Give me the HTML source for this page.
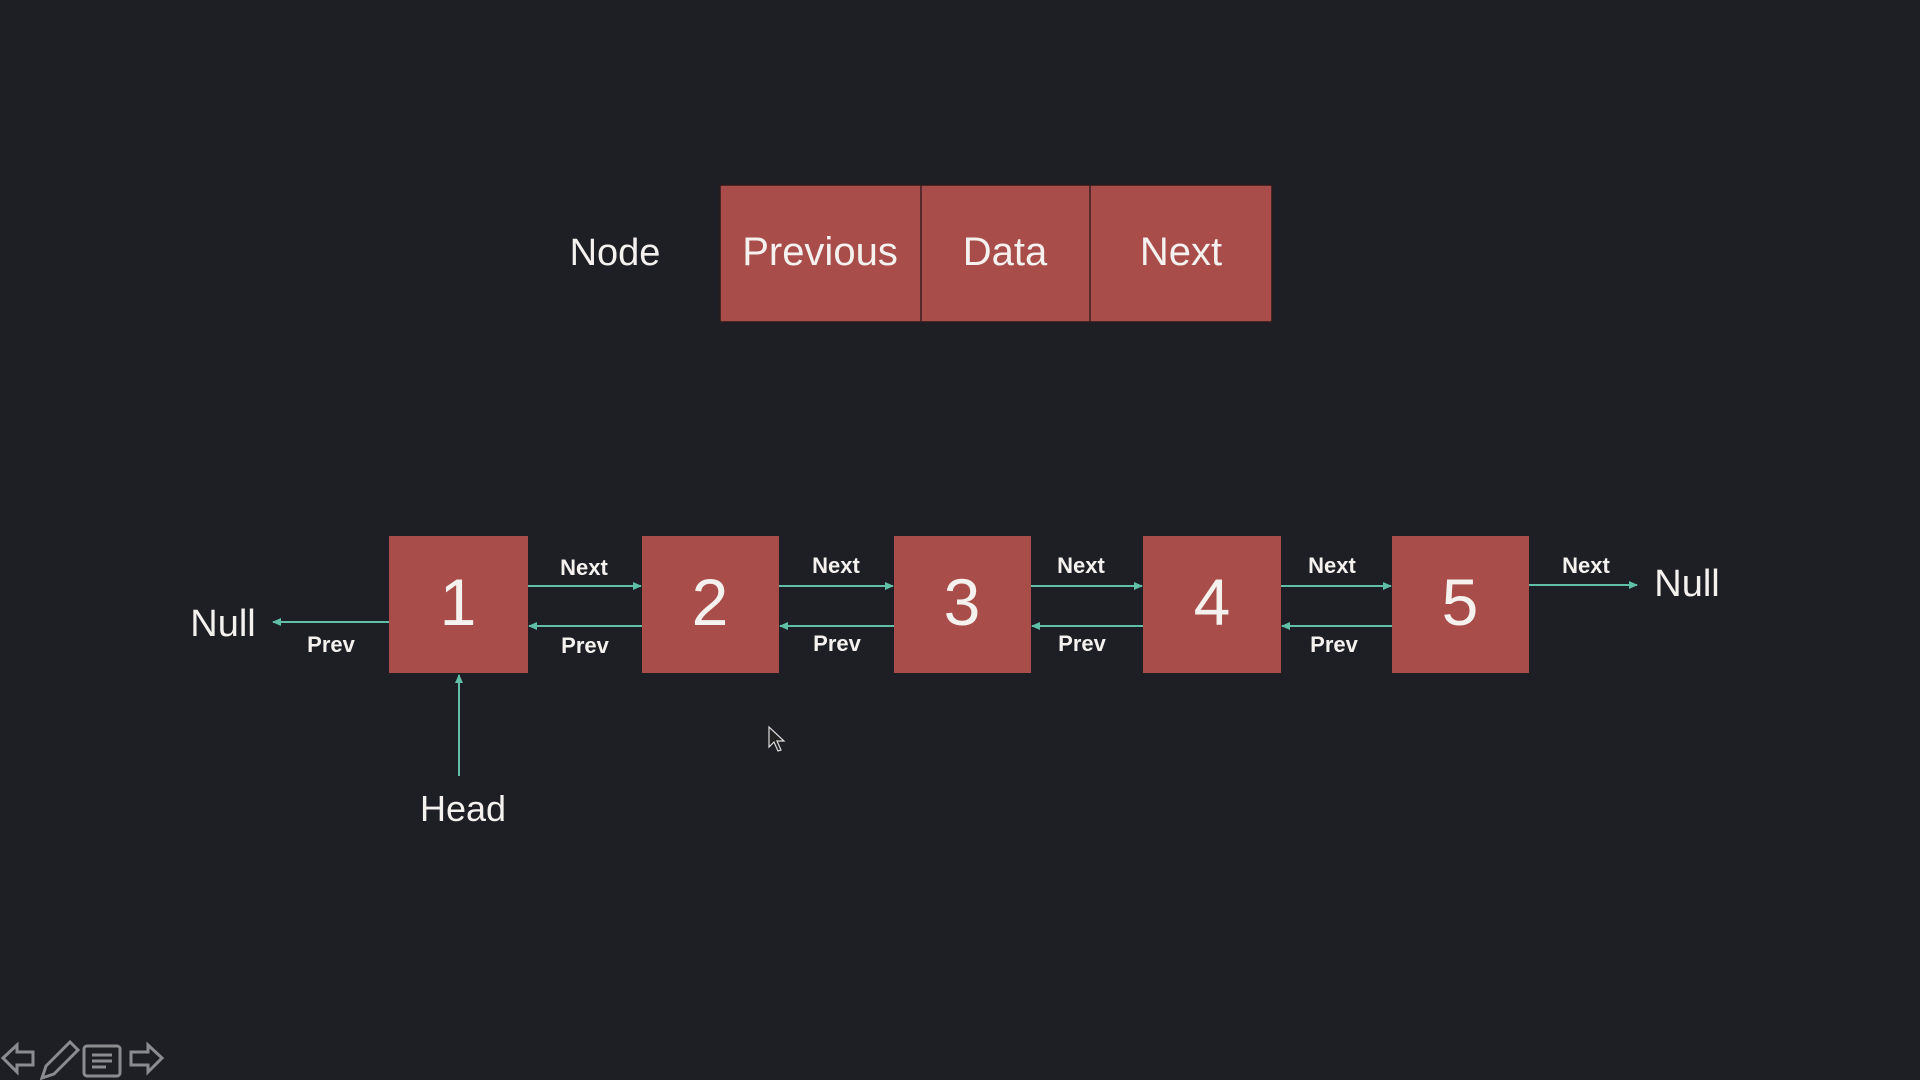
<!DOCTYPE html>
<html><head><meta charset="utf-8"><style>
html,body{margin:0;padding:0;background:#1d1f24;}
svg{display:block;}
text{font-family:"Liberation Sans",sans-serif;fill:#f4f1ee;}
</style></head><body>
<svg width="1920" height="1080" viewBox="0 0 1920 1080" xmlns="http://www.w3.org/2000/svg">
<defs>
<marker id="a" markerWidth="10" markerHeight="10" refX="8" refY="5" orient="auto" markerUnits="userSpaceOnUse">
<path d="M0,1 L9,5 L0,9 Z" fill="#5fbfa7"/></marker>
</defs>
<rect width="1920" height="1080" fill="#1d1f24"/>
<text x="615" y="265" font-size="38" text-anchor="middle">Node</text>
<rect x="720" y="185" width="552" height="137" fill="#a84d4a" stroke="#2a1a1a" stroke-width="1.5"/>
<line x1="921" y1="185" x2="921" y2="322" stroke="#3a1f1f" stroke-width="1.5"/>
<line x1="1090" y1="185" x2="1090" y2="322" stroke="#3a1f1f" stroke-width="1.5"/>
<text x="820" y="265" font-size="40" text-anchor="middle">Previous</text>
<text x="1005" y="265" font-size="40" text-anchor="middle">Data</text>
<text x="1181" y="265" font-size="40" text-anchor="middle">Next</text>

<g fill="#a84d4a">
<rect x="389" y="536" width="139" height="137"/>
<rect x="642" y="536" width="137" height="137"/>
<rect x="894" y="536" width="137" height="137"/>
<rect x="1143" y="536" width="138" height="137"/>
<rect x="1392" y="536" width="137" height="137"/>
</g>
<g font-size="66" text-anchor="middle">
<text x="458" y="625">1</text>
<text x="710" y="625">2</text>
<text x="962" y="625">3</text>
<text x="1212" y="625">4</text>
<text x="1460" y="625">5</text>
</g>
<g stroke="#5fbfa7" stroke-width="2" marker-end="url(#a)">
<line x1="528" y1="586" x2="641" y2="586"/>
<line x1="779" y1="586" x2="893" y2="586"/>
<line x1="1031" y1="586" x2="1142" y2="586"/>
<line x1="1281" y1="586" x2="1391" y2="586"/>
<line x1="1529" y1="585" x2="1637" y2="585"/>
<line x1="642" y1="626" x2="529" y2="626"/>
<line x1="894" y1="626" x2="780" y2="626"/>
<line x1="1143" y1="626" x2="1032" y2="626"/>
<line x1="1392" y1="626" x2="1282" y2="626"/>
<line x1="389" y1="622" x2="273" y2="622"/>
<line x1="459" y1="776" x2="459" y2="675"/>
</g>
<g font-size="22" font-weight="bold" text-anchor="middle">
<text x="584" y="575">Next</text>
<text x="836" y="573">Next</text>
<text x="1081" y="573">Next</text>
<text x="1332" y="573">Next</text>
<text x="1586" y="573">Next</text>
<text x="331" y="652">Prev</text>
<text x="585" y="653">Prev</text>
<text x="837" y="651">Prev</text>
<text x="1082" y="651">Prev</text>
<text x="1334" y="652">Prev</text>
</g>
<text x="223" y="636" font-size="38" text-anchor="middle">Null</text>
<text x="1687" y="596" font-size="38" text-anchor="middle">Null</text>
<text x="463" y="821" font-size="36" text-anchor="middle">Head</text>
<path d="M769,727 L769,747 L774,742 L778,751 L781,750 L777,741 L784,741 Z" fill="#222" stroke="#ddd" stroke-width="1.2"/>
<g fill="none" stroke="#8a8c90" stroke-width="3">
<path d="M3,1058 L17,1045 L17,1052 L33,1052 L33,1065 L17,1065 L17,1072 Z"/>
<path d="M42,1078 L46,1066 L70,1042 L78,1050 L54,1074 Z"/>
<rect x="84" y="1046" width="36" height="30" rx="3"/>
<path d="M92,1055 H112 M92,1061 H112 M92,1067 H106"/>
<path d="M162,1058 L148,1045 L148,1052 L131,1052 L131,1065 L148,1065 L148,1072 Z"/>
</g>
</svg>
</body></html>
